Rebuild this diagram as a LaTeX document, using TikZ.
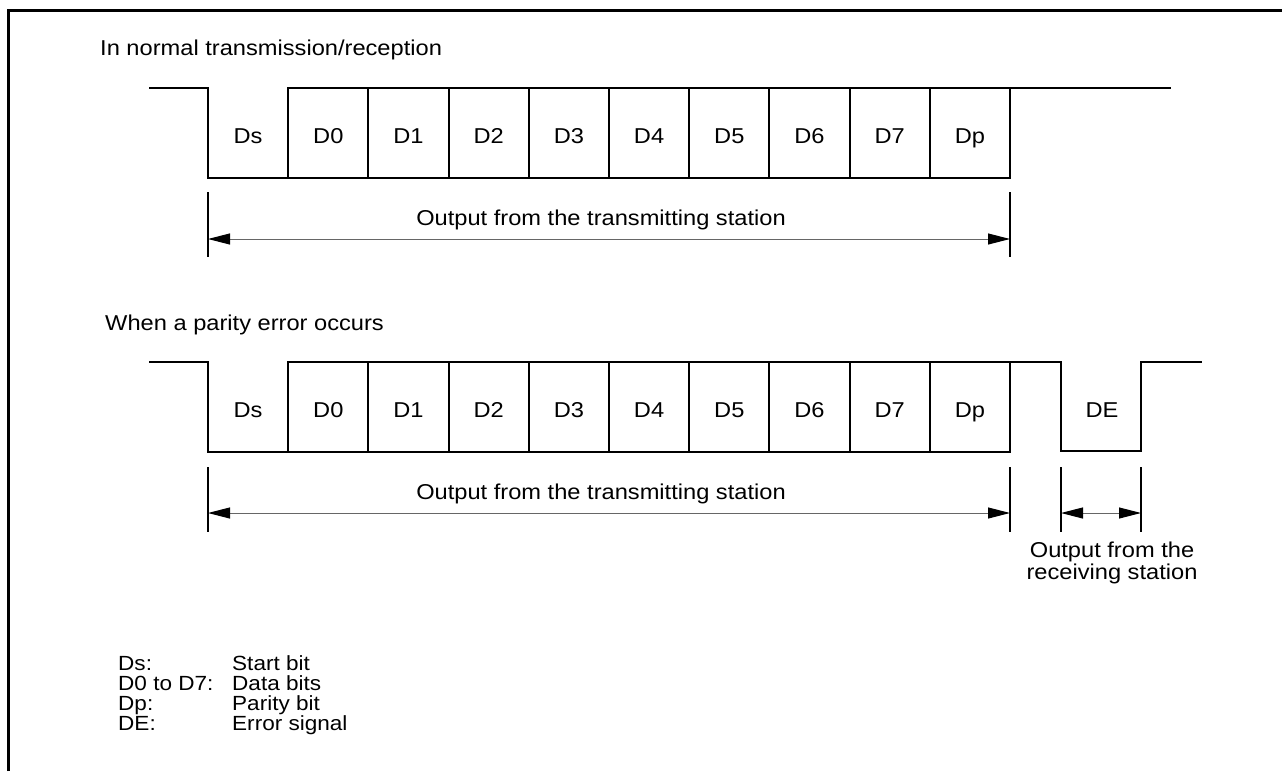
\documentclass[tikz,border=0pt]{standalone}
\usepackage{fontspec}
\setmainfont{Liberation Sans}[FakeStretch=1.1]
\usetikzlibrary{arrows.meta}
\begin{document}
\begin{tikzpicture}[x=1pt,y=-1pt,
  wave/.style={line width=2pt, line join=miter},
  ext/.style={line width=1.3pt},
  dimline/.style={line width=1pt, draw=black!60,
    {Triangle[length=22pt,width=11pt,color=black,fill=black]}-{Triangle[length=22pt,width=11pt,color=black,fill=black]}},
  lbl/.style={font=\fontsize{21.5}{22}\selectfont, inner sep=0pt, anchor=base},
  lblw/.style={lbl, anchor=base west},
  keytext/.style={font=\fontsize{20.5}{20}\selectfont, inner sep=0pt, anchor=base west}]
\useasboundingbox (0,0) rectangle (1282,771);
% frame
\draw[line width=3pt] (8.5,771) -- (8.5,10.5) -- (1282,10.5);

% ---------- normal transmission ----------
\node[lblw] (title1) at (100,55) {In normal transmission/reception};
\draw[wave] (149,88) -- (208,88) -- (208,178) -- (1010,178) -- (1010,88);
\draw[wave] (288,178) -- (288,88) -- (1171,88);
\foreach \i in {2,...,9} \draw[wave] ({208+80.2*\i},88) -- ({208+80.2*\i},178);
\foreach \t [count=\i from 0] in {Ds,D0,D1,D2,D3,D4,D5,D6,D7,Dp}
  \node[lbl] (u\i) at ({248.1+80.2*\i},143) {\t};
\coordinate (ua) at (208,239);
\coordinate (ub) at (1010,239);
\draw[ext] (208,192) -- (208,257);
\draw[ext] (1010,192) -- (1010,257);
\draw[dimline] (ua) -- (ub);
\node[lbl] (out1) at (601,225) {Output from the transmitting station};

% ---------- parity error ----------
\node[lblw] (title2) at (105,330) {When a parity error occurs};
\draw[wave] (149,362) -- (208,362) -- (208,452) -- (1010,452) -- (1010,362);
\draw[wave] (288,452) -- (288,362) -- (1061,362) -- (1061,451) -- (1141,451) -- (1141,362) -- (1202,362);
\foreach \i in {2,...,9} \draw[wave] ({208+80.2*\i},362) -- ({208+80.2*\i},452);
\foreach \t [count=\i from 0] in {Ds,D0,D1,D2,D3,D4,D5,D6,D7,Dp}
  \node[lbl] (l\i) at ({248.1+80.2*\i},417) {\t};
\node[lbl] (de) at (1102,417) {DE};
\coordinate (la) at (208,513);
\coordinate (lb) at (1010,513);
\coordinate (lc) at (1061,513);
\coordinate (ld) at (1141,513);
\foreach \x in {208,1010,1061,1141} \draw[ext] (\x,467) -- (\x,532);
\draw[dimline] (la) -- (lb);
\draw[dimline] (lc) -- (ld);
\node[lbl] (out2) at (601,499) {Output from the transmitting station};
\node[lbl] (rec1) at (1112,557) {Output from the};
\node[lbl] (rec2) at (1112,579) {receiving station};

% ---------- legend ----------
\node[keytext] (k1) at (118,670) {Ds:};
\node[keytext] (k2) at (118,690) {D0 to D7:};
\node[keytext] (k3) at (118,710) {Dp:};
\node[keytext] (k4) at (118,730) {DE:};
\node[keytext] (v1) at (232,670) {Start bit};
\node[keytext] (v2) at (232,690) {Data bits};
\node[keytext] (v3) at (232,710) {Parity bit};
\node[keytext] (v4) at (232,730) {Error signal};
\end{tikzpicture}
\end{document}
